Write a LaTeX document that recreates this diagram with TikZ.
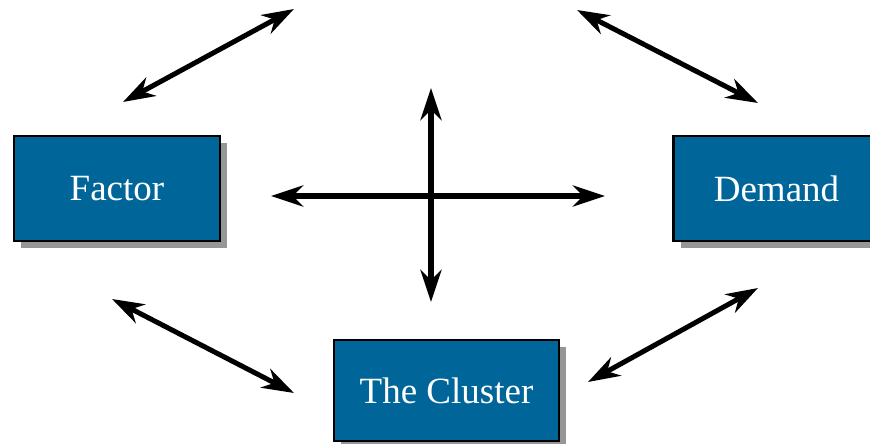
\documentclass[tikz,border=0pt]{standalone}
\usepackage{fontspec}
\setmainfont{Liberation Serif}
\usetikzlibrary{positioning, arrows.meta, shadows}
\definecolor{boxblue}{RGB}{0,101,153}
\definecolor{shadowgray}{RGB}{150,150,150}

\begin{document}
\begin{tikzpicture}[x=1pt, y=-1pt,
    block/.style={rectangle, draw=black, line width=2.5pt, fill=boxblue, text=white,
                  inner sep=0pt, font=\fontsize{37}{40}\selectfont,
                  drop shadow={shadow xshift=7pt, shadow yshift=-7pt, fill=shadowgray, opacity=1}},
    arrow/.style={{Stealth[length=32pt, width=21pt, inset=10pt]}-{Stealth[length=32pt, width=21pt, inset=10pt]}, line width=5.5pt},
    diag/.style={arrow, line width=5pt}
]
    \useasboundingbox (0,0) rectangle (870,444);

    % Boxes
    \node[block, minimum width=206pt, minimum height=105pt] (factor) at (117, 188.5) {Factor};
    \node[block, minimum width=206pt, minimum height=105pt] (demand) at (776.5, 188.5) {Demand};
    \node[block, minimum width=225pt, minimum height=101pt] (cluster) at (446.5, 390.5) {The Cluster};

    % Arrow end points
    \coordinate (tl1) at (123, 102);
    \coordinate (tl2) at (294, 9);
    \coordinate (tr1) at (577, 10);
    \coordinate (tr2) at (758, 103);
    \coordinate (bl1) at (112, 299);
    \coordinate (bl2) at (294, 393);
    \coordinate (br1) at (588, 382);
    \coordinate (br2) at (758, 288);
    \coordinate (west) at (271, 196);
    \coordinate (east) at (605, 196);
    \coordinate (north) at (431, 88);
    \coordinate (south) at (431, 302);

    % Diagonal arrows
    \draw[diag] (tl1) -- (tl2);
    \draw[diag] (tr1) -- (tr2);
    \draw[diag] (bl1) -- (bl2);
    \draw[diag] (br1) -- (br2);

    % Cross in the middle
    \draw[arrow] (west) -- (east);
    \draw[arrow] (north) -- (south);

\end{tikzpicture}
\end{document}
